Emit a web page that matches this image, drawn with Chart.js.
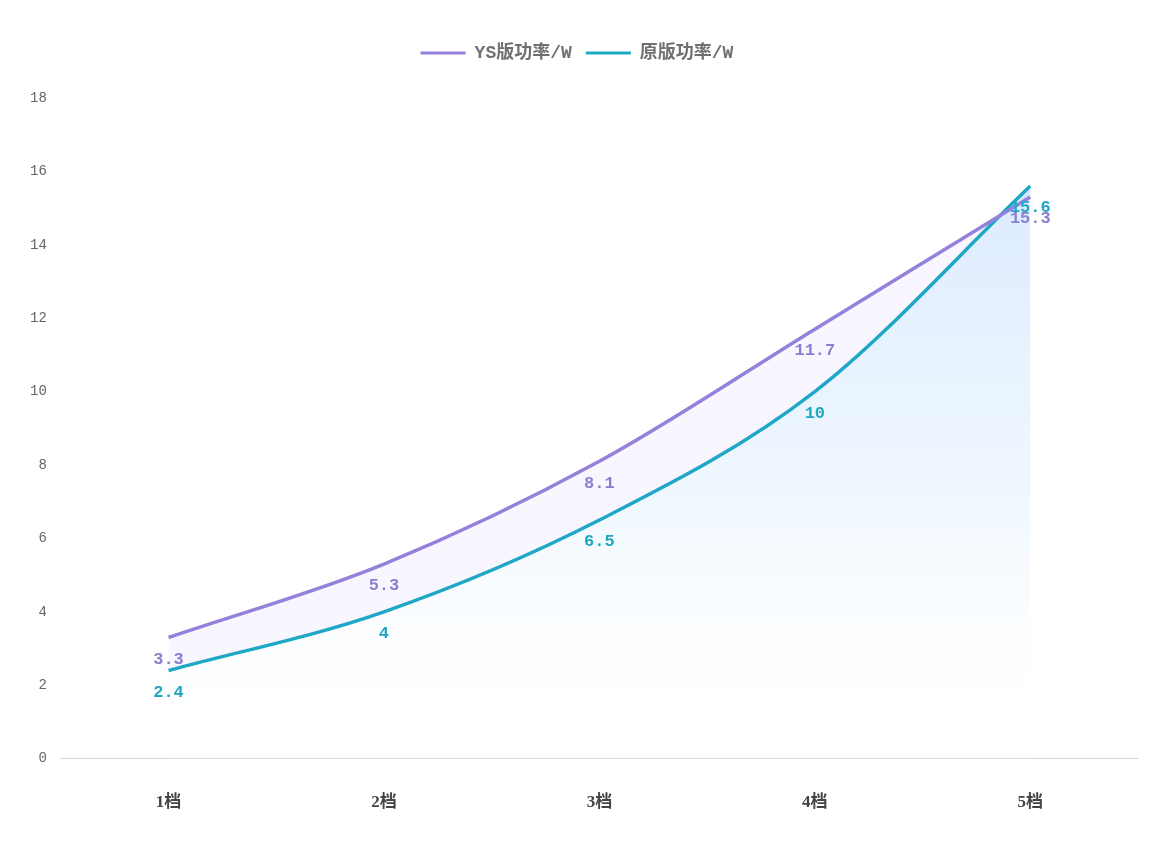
<!DOCTYPE html>
<html><head><meta charset="utf-8">
<script src="https://cdn.jsdelivr.net/npm/chart.js@4.4.1/dist/chart.umd.min.js"></script>
<style>html,body{margin:0;padding:0;background:#fff;}#wrap{width:1156px;height:864px;position:relative;}</style>
</head><body><div id="wrap"><canvas id="c"></canvas></div>
<script>
const categories = ['1档','2档','3档','4档','5档'];
const ysPower = [3.3, 5.3, 8.1, 11.7, 15.3];
const origPower = [2.4, 4, 6.5, 10, 15.6];
const seriesNames = ['YS版功率/W', '原版功率/W'];
const yTicks = [0,2,4,6,8,10,12,14,16,18];

const purple = '#9580db';
const teal = '#1ba9c5';
const labelColors = ['#8c7fcf', '#1fa6c2'];

const labelPlugin = {
  id: 'valueLabels',
  afterDatasetsDraw(chart) {
    const ctx = chart.ctx;
    ctx.save();
    ctx.font = 'bold 17px "Liberation Mono", "DejaVu Sans Mono", monospace';
    ctx.textAlign = 'center';
    ctx.textBaseline = 'middle';
    chart.data.datasets.forEach((ds, di) => {
      const meta = chart.getDatasetMeta(di);
      ctx.fillStyle = labelColors[di];
      meta.data.forEach((pt, i) => {
        ctx.fillText(String(ds.data[i]), pt.x, pt.y + 22);
      });
    });
    ctx.restore();
  }
};

const legendMargin = {
  id: 'legendMargin',
  beforeInit(chart) {
    const orig = chart.legend.fit;
    chart.legend.fit = function() {
      orig.bind(chart.legend)();
      this.height += 26;
    };
  }
};

const ctx = document.getElementById('c').getContext('2d');
new Chart(ctx, {
  type: 'line',
  data: {
    labels: categories,
    datasets: [
      {
        label: seriesNames[0],
        data: ysPower,
        borderColor: purple,
        backgroundColor: 'rgba(170,140,240,0.08)',
        borderWidth: 3.5,
        pointRadius: 0,
        cubicInterpolationMode: 'monotone',
        fill: '+1',
        order: 1
      },
      {
        label: seriesNames[1],
        data: origPower,
        borderColor: teal,
        backgroundColor: function(context) {
          const chart = context.chart;
          const area = chart.chartArea;
          if (!area) return 'rgba(200,225,255,0.4)';
          const g = chart.ctx.createLinearGradient(0, area.top, 0, area.bottom);
          g.addColorStop(0, 'rgba(200,222,255,0.75)');
          g.addColorStop(0.6, 'rgba(220,238,255,0.45)');
          g.addColorStop(1, 'rgba(255,255,255,0)');
          return g;
        },
        borderWidth: 3.5,
        pointRadius: 0,
        cubicInterpolationMode: 'monotone',
        fill: 'origin',
        order: 2
      }
    ]
  },
  options: {
    responsive: true,
    maintainAspectRatio: false,
    animation: false,
    layout: { padding: { left: 16, right: 18, top: 30, bottom: 17 } },
    plugins: {
      legend: {
        position: 'top',
        labels: {
          boxWidth: 45,
          boxHeight: 0,
          padding: 14,
          color: '#707070',
          font: { size: 18, weight: 'bold', family: '"Liberation Mono","Noto Sans CJK SC", monospace' },
          generateLabels(chart) {
            return chart.data.datasets.map((ds, i) => ({
              text: ds.label,
              strokeStyle: ds.borderColor,
              fillStyle: ds.borderColor,
              fontColor: '#707070',
              lineWidth: 3,
              datasetIndex: i,
              hidden: false
            }));
          }
        }
      },
      tooltip: { enabled: false }
    },
    scales: {
      x: {
        offset: true,
        grid: { display: false, drawTicks: false },
        border: { display: true, color: '#d8d8d8', width: 1 },
        ticks: {
          color: '#444',
          padding: 34,
          font: { size: 17, weight: 'bold', family: '"Liberation Serif","Noto Sans CJK SC", serif' }
        }
      },
      y: {
        min: 0,
        max: 18,
        afterBuildTicks(axis) { axis.ticks = yTicks.map(v => ({ value: v })); },
        grid: { display: false, drawTicks: false },
        border: { display: false },
        ticks: {
          color: '#666',
          padding: 14,
          font: { size: 14, family: '"Liberation Mono","DejaVu Sans Mono", monospace' }
        }
      }
    }
  },
  plugins: [labelPlugin, legendMargin]
});
</script>
</body></html>
